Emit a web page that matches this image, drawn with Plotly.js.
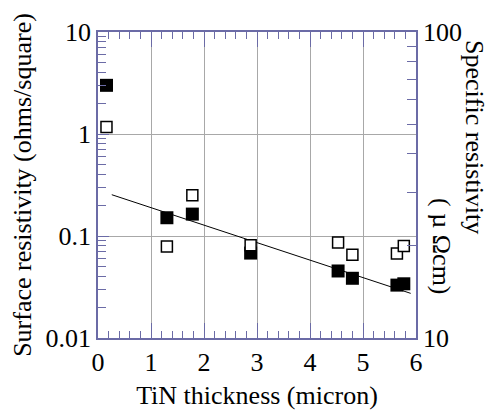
<!DOCTYPE html>
<html>
<head>
<meta charset="utf-8">
<script src="https://cdn.plot.ly/plotly-3.0.1.min.js"></script>
<style>html,body{margin:0;padding:0;background:#fff;}#chart{width:503px;height:416px;}</style>
</head>
<body>
<div id="chart"></div>
<script>
// Surface resistivity (left axis, filled squares)
const surfThickness = [0.16, 1.30, 1.78, 2.88, 4.53, 4.80, 5.64, 5.77];
const surfResistivity = [3.0, 0.151, 0.164, 0.068, 0.0454, 0.0385, 0.033, 0.034];
// Specific resistivity (right axis, open squares)
const specThickness = [0.16, 1.30, 1.78, 2.88, 4.53, 4.80, 5.64, 5.77];
const specResistivity = [48.9, 19.9, 29.3, 20.1, 20.5, 18.7, 18.9, 20.0];
// Fitted line endpoints
const fitThickness = [0.26, 5.90];
const fitResistivity = [0.254, 0.0274];

const axisColor = '#6b6ba6';
const mk = () => ({family: 'Liberation Serif', size: 26, color: '#000'});

const traces = [
  {x: fitThickness, y: fitResistivity, mode: 'lines', line: {color: '#000', width: 1}, yaxis: 'y'},
  {x: specThickness, y: specResistivity, mode: 'markers', yaxis: 'y2',
   marker: {symbol: 'square', size: 11, color: '#fff', line: {color: '#000', width: 1.5}}},
  {x: surfThickness, y: surfResistivity, mode: 'markers', yaxis: 'y',
   marker: {symbol: 'square', size: 13, color: '#000'}}
];

const layout = {
  width: 503, height: 416,
  margin: {l: 98, r: 87, t: 32, b: 78},
  showlegend: false,
  font: mk(),
  xaxis: {
    range: [0, 6], dtick: 1, ticks: 'inside', ticklen: 15, tickcolor: axisColor,
    showline: true, linecolor: axisColor, linewidth: 1.5, mirror: 'ticks',
    gridcolor: '#a8a8a8', zeroline: false,
    minor: {dtick: 0.2, ticks: 'inside', ticklen: 7, tickcolor: axisColor},
    tickfont: mk(),
    title: {text: 'TiN thickness (micron)', font: mk(), standoff: 10}
  },
  yaxis: {
    type: 'log', range: [-2, 1], dtick: 1, ticks: 'inside', ticklen: 11, tickcolor: axisColor,
    showline: true, linecolor: axisColor, linewidth: 1.5,
    gridcolor: '#a8a8a8', zeroline: false,
    minor: {dtick: 'D1', ticks: 'inside', ticklen: 8, tickcolor: axisColor},
    tickfont: mk(),
    title: {text: 'Surface resistivity (ohms/square)', font: mk(), standoff: 6}
  },
  yaxis2: {
    type: 'log', range: [1, 2], overlaying: 'y', side: 'right', dtick: 1,
    ticks: 'inside', ticklen: 9, tickcolor: axisColor,
    showline: true, linecolor: axisColor, linewidth: 1.5, showgrid: false, zeroline: false,
    minor: {dtick: 'D1', ticks: 'inside', ticklen: 9, tickcolor: axisColor},
    tickfont: mk()
  },
  annotations: [
    {text: 'Specific resistivity', xref: 'paper', yref: 'paper', x: 1.182, y: 0.657,
     xanchor: 'center', yanchor: 'middle', textangle: 90, showarrow: false, font: mk()},
    {text: '( µ Ωcm)', xref: 'paper', yref: 'paper', x: 1.082, y: 0.30,
     xanchor: 'center', yanchor: 'middle', textangle: 90, showarrow: false, font: mk()}
  ]
};

Plotly.newPlot('chart', traces, layout, {displayModeBar: false});
</script>
</body>
</html>
